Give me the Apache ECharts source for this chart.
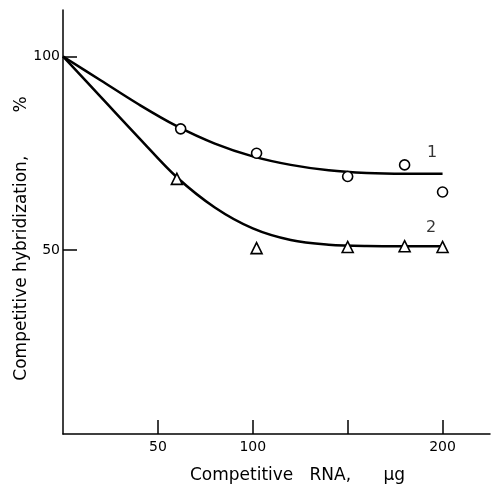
<!DOCTYPE html>
<html>
<head>
<meta charset="utf-8">
<script src="https://cdn.jsdelivr.net/npm/echarts@6/dist/echarts.min.js"></script>
<style>html,body{margin:0;padding:0;background:#fff}#c{width:491px;height:487px}</style>
</head>
<body>
<div id="c"></div>
<script>
// Measured points
const circleX = [62, 102, 150, 180, 200];
const circleY = [81.3, 75, 69, 72, 65];
const triX = [60, 102, 150, 180, 200];
const triY = [68.4, 50.5, 50.8, 51, 50.8];
// Fitted curves
const curve1X = [0, 20, 40, 60, 80, 100, 120, 140, 160, 180, 200];
const curve1Y = [100, 93.8, 87.6, 82, 77.5, 74.2, 72, 70.6, 69.9, 69.7, 69.7];
const curve2X = [0, 20, 40, 60, 80, 100, 120, 140, 160, 180, 200];
const curve2Y = [100, 89.5, 79, 68.8, 61, 55.6, 52.6, 51.4, 51.05, 51.0, 51.0];
const curveLabels = ['1', '2'];
const curveLabelX = [194.5, 194];
const curveLabelY = [75, 55.7];
const xTicks = [50, 100, 150, 200];
const xTickLabels = [50, 100, 200];
const yTicks = [50, 100];

const zip = (xs, ys) => xs.map((x, i) => [x, ys[i]]);
const font = '"DejaVu Sans", sans-serif';
const chart = echarts.init(document.getElementById('c'), null, {renderer: 'canvas'});
chart.setOption({
  animation: false,
  backgroundColor: '#fff',
  grid: {left: 63, right: 1, top: 10, bottom: 53, containLabel: false, outerBoundsMode: 'none'},
  xAxis: {
    type: 'value', min: 0, max: 225,
    name: 'Competitive   RNA,      \u03bcg', nameLocation: 'middle', nameGap: 33, nameMoveOverlap: false,
    nameTextStyle: {color: '#000', fontFamily: font, fontSize: 17, padding: [0, 0, 0, 42]},
    axisLine: {lineStyle: {color: '#000', width: 1.5}},
    axisTick: {inside: true, length: 14, lineStyle: {color: '#000', width: 1.5}, customValues: xTicks},
    axisLabel: {color: '#000', fontFamily: font, fontSize: 14, margin: 6, customValues: xTickLabels},
    splitLine: {show: false}
  },
  yAxis: {
    type: 'value', min: 2.5, max: 112,
    name: 'Competitive hybridization,        %', nameLocation: 'middle', nameGap: 33, nameMoveOverlap: false,
    nameTextStyle: {color: '#000', fontFamily: font, fontSize: 17, padding: [0, 33, 0, 0]},
    axisLine: {lineStyle: {color: '#000', width: 1.5}},
    axisTick: {inside: true, length: 14, lineStyle: {color: '#000', width: 1.5}, customValues: yTicks},
    axisLabel: {color: '#000', fontFamily: font, fontSize: 14, margin: 3, customValues: yTicks},
    splitLine: {show: false}
  },
  series: [
    {type: 'line', data: zip(curve1X, curve1Y), smooth: 0.35, showSymbol: false, symbol: 'none',
     lineStyle: {color: '#000', width: 2.5}, z: 2},
    {type: 'line', data: zip(curve2X, curve2Y), smooth: 0.35, showSymbol: false, symbol: 'none',
     lineStyle: {color: '#000', width: 2.5}, z: 2},
    {type: 'scatter', data: zip(circleX, circleY), symbol: 'circle', symbolSize: 10,
     itemStyle: {color: '#fff', borderColor: '#000', borderWidth: 1.6, opacity: 1}, z: 3},
    {type: 'scatter', data: zip(triX, triY), symbol: 'triangle', symbolSize: 11,
     itemStyle: {color: '#fff', borderColor: '#000', borderWidth: 1.6, opacity: 1}, z: 3},
    {type: 'scatter', data: curveLabels.map((t, i) => ({value: [curveLabelX[i], curveLabelY[i]], name: t})),
     symbolSize: 0, z: 4,
     label: {show: true, position: 'inside', formatter: p => p.name, color: '#000', textBorderWidth: 0, fontFamily: font, fontSize: 16}}
  ]
});
</script>
</body>
</html>
